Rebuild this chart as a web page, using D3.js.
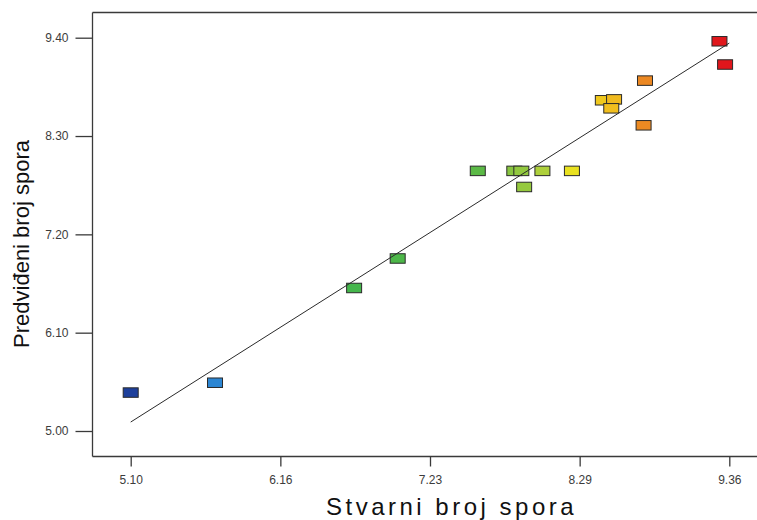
<!DOCTYPE html>
<html>
<head>
<meta charset="utf-8">
<script src="https://cdn.jsdelivr.net/npm/d3@7"></script>
<style>
  html, body { margin: 0; padding: 0; background: #fff; }
  svg { display: block; font-family: "Liberation Sans", Arial, sans-serif; }
</style>
</head>
<body>
<svg id="chart" width="757" height="520"></svg>
<script>
// ---- data ----
const actual    = [5.10, 5.70, 6.69, 7.00, 7.57, 7.83, 7.88, 8.03, 8.24, 7.90, 8.46, 8.54, 8.52, 8.76, 8.75, 9.29, 9.33];
const predicted = [5.43, 5.54, 6.60, 6.93, 7.91, 7.91, 7.91, 7.91, 7.91, 7.73, 8.70, 8.71, 8.61, 8.92, 8.42, 9.36, 9.10];
const lineX = [5.10, 9.36];
const lineY = [5.10, 9.34];
const xTicks = [5.10, 6.165, 7.23, 8.295, 9.36];
const xTickLabels = ["5.10", "6.16", "7.23", "8.29", "9.36"];
const yTicks = [5.00, 6.10, 7.20, 8.30, 9.40];
const yTickLabels = ["5.00", "6.10", "7.20", "8.30", "9.40"];
const xTitle = "Stvarni broj spora";
const yTitle = "Predviđeni broj spora";

// ---- layout / style ----
const W = 757, H = 520;
const frameLeft = 92.5, frameTop = 12.5, frameBottom = 456.5;
const svg = d3.select("#chart");

const x = d3.scaleLinear().domain([5.10, 9.36]).range([130.7, 729.3]);
const y = d3.scaleLinear().domain([5.00, 9.40]).range([431, 37.7]);

const color = d3.scaleLinear()
  .domain([5.10, 5.70, 6.70, 7.60, 8.05, 8.25, 8.50, 8.75, 9.30])
  .range(["#1d3f9b", "#2c86d3", "#45b64b", "#5cb946", "#b2d13a", "#ece21f", "#f1c31d", "#ec8a22", "#e0161c"])
  .clamp(true);

const axisColor = "#3a3a3a";

// frame lines (top, left, bottom; right side runs off the picture)
svg.append("line").attr("x1", frameLeft).attr("x2", W).attr("y1", frameTop).attr("y2", frameTop)
  .attr("stroke", axisColor).attr("stroke-width", 1.3);
svg.append("line").attr("x1", frameLeft).attr("x2", frameLeft).attr("y1", frameTop).attr("y2", frameBottom)
  .attr("stroke", axisColor).attr("stroke-width", 1.3);
svg.append("line").attr("x1", frameLeft).attr("x2", W).attr("y1", frameBottom).attr("y2", frameBottom)
  .attr("stroke", axisColor).attr("stroke-width", 1.3);

// y axis
const yAxis = svg.append("g").attr("transform", `translate(${frameLeft},0)`)
  .call(d3.axisLeft(y).tickValues(yTicks).tickSize(17).tickPadding(7)
    .tickFormat((d, i) => yTickLabels[i]));
yAxis.select(".domain").remove();
yAxis.selectAll(".tick line").attr("stroke", axisColor).attr("stroke-width", 1.3);
yAxis.selectAll(".tick text").attr("fill", "#3c3c3c").attr("font-size", 12)
  .attr("font-family", "'Liberation Sans', Arial, sans-serif");

// x axis
const xAxis = svg.append("g").attr("transform", `translate(0,${frameBottom})`)
  .call(d3.axisBottom(x).tickValues(xTicks).tickSize(10).tickPadding(9)
    .tickFormat((d, i) => xTickLabels[i]));
xAxis.select(".domain").remove();
xAxis.selectAll(".tick line").attr("stroke", axisColor).attr("stroke-width", 1.3);
xAxis.selectAll(".tick text").attr("fill", "#3c3c3c").attr("font-size", 12)
  .attr("font-family", "'Liberation Sans', Arial, sans-serif");

// points
const pts = actual.map((a, i) => ({ a, p: predicted[i] }));
svg.append("g").selectAll("rect").data(pts).join("rect")
  .attr("x", d => x(d.a) - 7.5)
  .attr("y", d => y(d.p) - 4.75)
  .attr("width", 15)
  .attr("height", 9.5)
  .attr("fill", d => color(d.a))
  .attr("stroke", "#2a2a2a")
  .attr("stroke-width", 1);

// fit line
const line = d3.line().x(d => x(d[0])).y(d => y(d[1]));
svg.append("path").datum(lineX.map((v, i) => [v, lineY[i]]))
  .attr("d", line).attr("fill", "none").attr("stroke", "#2a2a2a").attr("stroke-width", 1);

// titles
svg.append("text").attr("x", 326).attr("y", 515)
  .attr("font-size", 24).attr("letter-spacing", 3.5).attr("fill", "#111")
  .text(xTitle);
svg.append("text").attr("transform", "translate(29,244) rotate(-90)")
  .attr("text-anchor", "middle").attr("font-size", 22).attr("fill", "#111")
  .text(yTitle);
</script>
</body>
</html>
